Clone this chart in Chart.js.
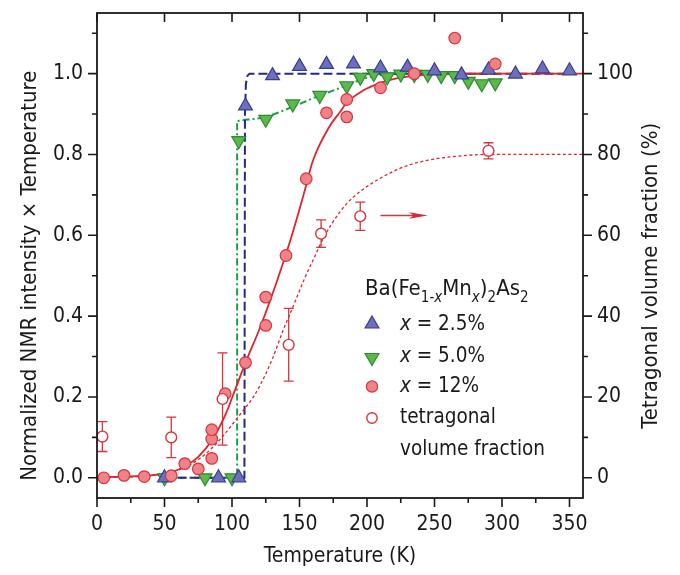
<!DOCTYPE html>
<html>
<head>
<meta charset="utf-8">
<script src="https://cdn.jsdelivr.net/npm/chart.js@4.4.1/dist/chart.umd.min.js"></script>
<style>
  html, body { margin: 0; padding: 0; background: #fff; }
  #wrap { width: 680px; height: 575px; }
</style>
</head>
<body>
<div id="wrap"><canvas id="c" width="680" height="575"></canvas></div>
<script>
// ---------- data ----------
// x = 2.5 % (up triangles)
const blueT = [50, 90, 105, 110, 130, 150, 170, 190, 210, 230, 250, 270, 290, 310, 330, 350];
const blueV = [0, 0, 0, 0.92, 0.995, 1.018, 1.023, 1.024, 1.014, 1.016, 1.007, 0.997, 1.009, 0.999, 1.012, 1.007];
// x = 5.0 % (down triangles)
const greenT = [50, 80, 100, 105, 125, 145, 165, 185, 195, 205, 215, 225, 235, 245, 255, 265, 275, 285, 295];
const greenV = [0, 0, 0, 0.834, 0.887, 0.925, 0.946, 0.970, 0.991, 1.0, 0.992, 0.999, 0.998, 0.998, 0.995, 0.995, 0.981, 0.975, 0.977];
// x = 12 % (filled circles)
const redT = [5, 20, 35, 55, 65, 75, 85, 85, 85, 95, 110, 125, 125, 140, 155, 170, 185, 185, 210, 235, 265, 295];
const redV = [0, 0.006, 0.003, 0.005, 0.035, 0.022, 0.048, 0.096, 0.119, 0.208, 0.285, 0.377, 0.447, 0.55, 0.74, 0.903, 0.936, 0.893, 0.965, 1.0, 1.088, 1.024];
// tetragonal volume fraction (%), open circles with error bars (right axis)
const tetraT = [4, 55, 93, 142, 166, 195, 290];
const tetraV = [10.2, 10.0, 19.5, 32.9, 60.4, 64.7, 80.9];
const tetraErr = [3.7, 5.0, 11.4, 9.0, 3.4, 3.5, 2.0];

// fitted curves
const fitBlueT = [50, 109.2, 109.6, 110.3, 111.5, 113, 350];
const fitBlueV = [0, 0, 0.9, 0.975, 0.995, 1.0, 1.0];
const fitGreenT = [50, 103.8, 103.8, 106, 125, 145, 165, 178, 190, 200, 215, 230, 295];
const fitGreenV = [0, 0, 0.883, 0.884, 0.893, 0.918, 0.946, 0.962, 0.978, 0.99, 0.998, 1.0, 1.0];
const fitRedT = [0, 20, 40, 55, 65, 75, 85, 95, 102, 110, 120, 132, 143, 153, 160, 172, 180, 185, 197, 210, 222, 234, 247, 270, 300, 360];
const fitRedV = [0.002, 0.003, 0.006, 0.014, 0.028, 0.052, 0.092, 0.155, 0.215, 0.285, 0.365, 0.474, 0.585, 0.70, 0.785, 0.868, 0.905, 0.928, 0.958, 0.977, 0.988, 0.994, 0.998, 1.0, 1.0, 1.0];
const fitTetraT = [0, 30, 50, 64, 75, 85, 94, 103, 116, 121, 130, 138, 146, 154, 161, 168, 180, 190, 202, 217, 232, 247, 262, 290, 360];
const fitTetraV = [0, 0.3, 1.0, 2.4, 4.5, 7.3, 10.6, 14.4, 20.1, 23.0, 29.5, 36.6, 43, 49.5, 54.5, 59.5, 65.8, 69.5, 72.5, 75.4, 77.5, 78.7, 79.4, 80, 80];

// arrow pointing to the right axis
const arrowT = [210, 245];
const arrowV = 64.9;

// ticks
const xMajor = [0, 50, 100, 150, 200, 250, 300, 350];
const xMinor = [25, 75, 125, 175, 225, 275, 325];
const yMajor = [0, 0.2, 0.4, 0.6, 0.8, 1.0];
const yMinor = [0.1, 0.3, 0.5, 0.7, 0.9, 1.1];
const y2Major = [0, 20, 40, 60, 80, 100];
const y2Minor = [10, 30, 50, 70, 90, 110];

// text
const xTitle = 'Temperature (K)';
const yTitle = 'Normalized NMR intensity \u00d7 Temperature';
const y2Title = 'Tetragonal volume fraction (%)';
const legendLabels = ['x = 2.5%', 'x = 5.0%', 'x = 12%', 'tetragonal', 'volume fraction'];

// ---------- styles ----------
const FONT = '"Liberation Sans Narrow", "Arial Narrow", "DejaVu Sans Condensed", sans-serif';
const FS = 22, FT = 21, FL = 20.5;
const INK = '#1a1a1a';
const C = {
  blueFill: '#6c70b9', blueEdge: '#393d97', blueLine: '#232a84',
  greenFill: '#5cb848', greenEdge: '#2f8a37', greenLine: '#1f9e46',
  redFill: '#f08289', redEdge: '#d8343d', redLine: '#e0232b'
};

const pts = (xs, ys) => xs.map((x, i) => ({x: x, y: ys[i]}));

// ---------- plugins ----------
const errorBars = {
  id: 'errorBars',
  beforeDatasetsDraw(chart) {
    const ctx = chart.ctx, xs = chart.scales.x, ys = chart.scales.y2;
    ctx.save();
    ctx.strokeStyle = C.redEdge;
    ctx.lineWidth = 1.3;
    tetraT.forEach((t, i) => {
      const px = xs.getPixelForValue(t);
      const y1 = ys.getPixelForValue(tetraV[i] + tetraErr[i]);
      const y0 = ys.getPixelForValue(tetraV[i] - tetraErr[i]);
      ctx.beginPath();
      ctx.moveTo(px, y1); ctx.lineTo(px, y0);
      ctx.moveTo(px - 5, y1); ctx.lineTo(px + 5, y1);
      ctx.moveTo(px - 5, y0); ctx.lineTo(px + 5, y0);
      ctx.stroke();
    });
    // arrow
    const ax0 = xs.getPixelForValue(arrowT[0]);
    const ax1 = xs.getPixelForValue(arrowT[1]);
    const ay = ys.getPixelForValue(arrowV);
    ctx.lineWidth = 1.5;
    ctx.beginPath(); ctx.moveTo(ax0, ay); ctx.lineTo(ax1 - 10, ay); ctx.stroke();
    ctx.fillStyle = C.redLine;
    ctx.beginPath();
    ctx.moveTo(ax1, ay);
    ctx.lineTo(ax1 - 19, ay - 3.2);
    ctx.lineTo(ax1 - 14, ay);
    ctx.lineTo(ax1 - 19, ay + 3.2);
    ctx.closePath();
    ctx.fill();
    ctx.restore();
  }
};

const frameTicks = {
  id: 'frameTicks',
  afterDraw(chart) {
    const ctx = chart.ctx, a = chart.chartArea;
    const xs = chart.scales.x, ys = chart.scales.y, y2 = chart.scales.y2;
    ctx.save();
    ctx.strokeStyle = INK;
    ctx.lineWidth = 1.8;
    ctx.strokeRect(a.left, a.top, a.right - a.left, a.bottom - a.top);
    ctx.lineWidth = 1.6;
    ctx.beginPath();
    const MAJ = 9, MIN = 5;
    xMajor.forEach(v => { const p = xs.getPixelForValue(v); ctx.moveTo(p, a.bottom); ctx.lineTo(p, a.bottom + MAJ); ctx.moveTo(p, a.top); ctx.lineTo(p, a.top + MAJ); });
    xMinor.forEach(v => { const p = xs.getPixelForValue(v); ctx.moveTo(p, a.bottom); ctx.lineTo(p, a.bottom + MIN); });
    yMajor.forEach(v => { const p = ys.getPixelForValue(v); ctx.moveTo(a.left, p); ctx.lineTo(a.left - MAJ, p); });
    yMinor.forEach(v => { const p = ys.getPixelForValue(v); ctx.moveTo(a.left, p); ctx.lineTo(a.left - MIN, p); });
    y2Major.forEach(v => { const p = y2.getPixelForValue(v); ctx.moveTo(a.right, p); ctx.lineTo(a.right + MAJ, p); });
    y2Minor.forEach(v => { const p = y2.getPixelForValue(v); ctx.moveTo(a.right, p); ctx.lineTo(a.right + MIN, p); });
    ctx.stroke();

    const big = FS + 'px ' + FONT, leg = FL + 'px ' + FONT, small = '15px ' + FONT;

    // vertical axis titles (both read bottom-to-top)
    ctx.fillStyle = INK;
    ctx.font = big;
    ctx.textAlign = 'center';
    ctx.textBaseline = 'middle';
    const midY = (ys.getPixelForValue(0) + ys.getPixelForValue(1)) / 2;
    ctx.save(); ctx.translate(30, midY); ctx.rotate(-Math.PI / 2); ctx.fillText(yTitle, 0, 0); ctx.restore();
    ctx.save(); ctx.translate(651, midY); ctx.rotate(-Math.PI / 2); ctx.fillText(y2Title, 0, 0); ctx.restore();

    // legend
    const lx = a.left + 268, mx = a.left + 275, tx = a.left + 303;
    const rows = [a.top + 312, a.top + 343.5, a.top + 373.5, a.top + 405, a.top + 437];
    ctx.textBaseline = 'alphabetic';
    ctx.textAlign = 'left';
    let x = lx; const base = a.top + 282, sub = base + 7;
    const seg = (txt, font, y) => { ctx.font = font; ctx.fillText(txt, x, y); x += ctx.measureText(txt).width; };
    seg('Ba(Fe', big, base);
    seg('1-', small, sub);
    seg('x', 'italic ' + small, sub);
    seg('Mn', big, base);
    seg('x', 'italic ' + small, sub);
    seg(')', big, base);
    seg('2', small, sub);
    seg('As', big, base);
    seg('2', small, sub);

    ctx.textBaseline = 'middle';
    for (let i = 0; i < 3; i++) {
      ctx.font = 'italic ' + leg;
      ctx.fillText('x', tx, rows[i]);
      const w = ctx.measureText('x').width;
      ctx.font = leg;
      ctx.fillText(legendLabels[i].slice(1), tx + w, rows[i]);
    }
    ctx.font = leg;
    ctx.fillText(legendLabels[3], tx, rows[3]);
    ctx.fillText(legendLabels[4], tx, rows[4]);

    // legend markers
    const tri = (cx, cy, r, down, fill, edge) => {
      ctx.beginPath();
      const s = down ? -1 : 1;
      ctx.moveTo(cx, cy - s * r);
      ctx.lineTo(cx + r * 0.866, cy + s * r * 0.5);
      ctx.lineTo(cx - r * 0.866, cy + s * r * 0.5);
      ctx.closePath();
      ctx.fillStyle = fill; ctx.fill();
      ctx.strokeStyle = edge; ctx.lineWidth = 1.2; ctx.stroke();
    };
    tri(mx, rows[0] - 1, 8, false, C.blueFill, C.blueEdge);
    tri(mx, rows[1] + 1, 8, true, C.greenFill, C.greenEdge);
    ctx.beginPath(); ctx.arc(mx, rows[2], 5.6, 0, Math.PI * 2);
    ctx.fillStyle = C.redFill; ctx.fill(); ctx.strokeStyle = C.redEdge; ctx.lineWidth = 1.2; ctx.stroke();
    ctx.beginPath(); ctx.arc(mx, rows[3], 5.2, 0, Math.PI * 2);
    ctx.fillStyle = '#fff'; ctx.fill(); ctx.strokeStyle = C.redEdge; ctx.lineWidth = 1.4; ctx.stroke();
    ctx.restore();
  }
};

// ---------- chart ----------
const tickFont = {family: FONT, size: FT};
const titleFont = {family: FONT, size: FS};
new Chart(document.getElementById('c'), {
  type: 'scatter',
  data: {
    datasets: [
      {label: 'tetragonal volume fraction', data: pts(tetraT, tetraV), yAxisID: 'y2',
       pointStyle: 'circle', pointRadius: 5.4, backgroundColor: '#ffffff', borderColor: C.redEdge, borderWidth: 1.4},
      {label: 'x = 12%', data: pts(redT, redV), yAxisID: 'y',
       pointStyle: 'circle', pointRadius: 5.8, backgroundColor: C.redFill, borderColor: C.redEdge, borderWidth: 1.2},
      {label: 'x = 2.5%', data: pts(blueT, blueV), yAxisID: 'y',
       pointStyle: 'triangle', pointRadius: 8, backgroundColor: C.blueFill, borderColor: C.blueEdge, borderWidth: 1.2},
      {label: 'x = 5.0%', data: pts(greenT, greenV), yAxisID: 'y',
       pointStyle: 'triangle', rotation: 180, pointRadius: 8, backgroundColor: C.greenFill, borderColor: C.greenEdge, borderWidth: 1.2},
      {type: 'line', label: 'fit 12%', data: pts(fitRedT, fitRedV), yAxisID: 'y', showLine: true,
       pointRadius: 0, borderColor: C.redLine, borderWidth: 1.8, cubicInterpolationMode: 'monotone', fill: false},
      {type: 'line', label: 'fit tetragonal', data: pts(fitTetraT, fitTetraV), yAxisID: 'y2', showLine: true,
       pointRadius: 0, borderColor: C.redLine, borderWidth: 1.3, borderDash: [3, 2.5], cubicInterpolationMode: 'monotone', fill: false},
      {type: 'line', label: 'fit 2.5%', data: pts(fitBlueT, fitBlueV), yAxisID: 'y', showLine: true,
       pointRadius: 0, borderColor: C.blueLine, borderWidth: 2, borderDash: [9, 4], tension: 0, fill: false},
      {type: 'line', label: 'fit 5.0%', data: pts(fitGreenT, fitGreenV), yAxisID: 'y', showLine: true,
       pointRadius: 0, borderColor: C.greenLine, borderWidth: 2, borderDash: [7, 3, 2, 3], cubicInterpolationMode: 'monotone', fill: false}
    ]
  },
  options: {
    responsive: false,
    devicePixelRatio: 1,
    animation: false,
    layout: {padding: {top: 13, left: 0, right: 0, bottom: 0}},
    plugins: {legend: {display: false}, tooltip: {enabled: false}},
    scales: {
      x: {
        type: 'linear', position: 'bottom', min: 0, max: 360,
        afterBuildTicks: s => { s.ticks = xMajor.map(v => ({value: v})); },
        afterFit: s => { s.height = 77; s.paddingLeft = 0; s.paddingRight = 0; },
        grid: {display: false, drawTicks: false}, border: {display: false},
        ticks: {font: tickFont, color: INK, padding: 14, maxRotation: 0, autoSkip: false},
        title: {display: true, text: xTitle, font: {family: FONT, size: FT}, color: INK, padding: {top: 0, bottom: 6}}
      },
      y: {
        type: 'linear', position: 'left', min: -0.05, max: 1.15,
        afterBuildTicks: s => { s.ticks = yMajor.map(v => ({value: v})); },
        afterFit: s => { s.width = 97; s.paddingTop = 0; s.paddingBottom = 0; },
        grid: {display: false, drawTicks: false}, border: {display: false},
        ticks: {font: tickFont, color: INK, padding: 14, callback: v => v.toFixed(1)},
        title: {display: false}
      },
      y2: {
        type: 'linear', position: 'right', min: -5, max: 115,
        afterBuildTicks: s => { s.ticks = y2Major.map(v => ({value: v})); },
        afterFit: s => { s.width = 97; s.paddingTop = 0; s.paddingBottom = 0; },
        grid: {display: false, drawTicks: false}, border: {display: false},
        ticks: {font: tickFont, color: INK, padding: 14, callback: v => String(Math.round(v))},
        title: {display: false}
      }
    }
  },
  plugins: [errorBars, frameTicks]
});
</script>
</body>
</html>
